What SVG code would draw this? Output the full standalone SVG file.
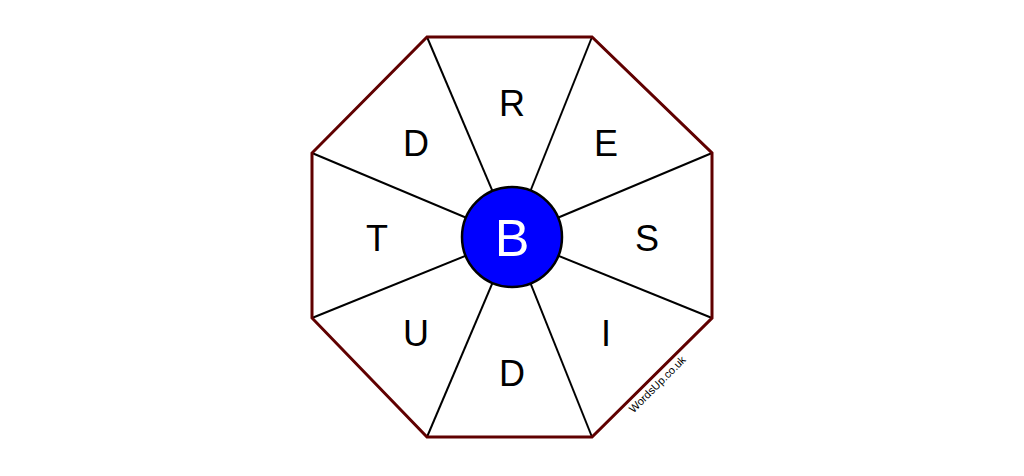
<svg xmlns="http://www.w3.org/2000/svg" width="1024" height="476" viewBox="0 0 1024 476">
<style>
.spoke{stroke:#000;stroke-width:2;}
.lt{font-family:"Liberation Sans",Arial,sans-serif;font-size:36px;fill:#000;text-anchor:middle;}
</style>
<rect width="1024" height="476" fill="#fff"/>
<g id="connectors">
<line class="spoke" x1="512" y1="237" x2="427" y2="37"/>
<line class="spoke" x1="512" y1="237" x2="592" y2="37"/>
<line class="spoke" x1="512" y1="237" x2="712" y2="153"/>
<line class="spoke" x1="512" y1="237" x2="712" y2="318"/>
<line class="spoke" x1="512" y1="237" x2="592" y2="437"/>
<line class="spoke" x1="512" y1="237" x2="427" y2="437"/>
<line class="spoke" x1="512" y1="237" x2="312" y2="318"/>
<line class="spoke" x1="512" y1="237" x2="312" y2="153"/>
</g>
<g id="octagon">
<polygon points="427,37 592,37 712,153 712,318 592,437 427,437 312,318 312,153" fill="none" stroke="#600000" stroke-width="3" stroke-linejoin="miter"/>
</g>
<g id="center">
<circle cx="512" cy="237" r="50" fill="#0000ff" stroke="#000" stroke-width="2.5"/>
<text x="512" y="256" font-family="'Liberation Sans',Arial,sans-serif" font-size="52" fill="#fff" text-anchor="middle">B</text>
</g>
<g id="letter-R"><text class="lt" x="512" y="116">R</text></g>
<g id="letter-E"><text class="lt" x="606" y="156">E</text></g>
<g id="letter-S"><text class="lt" x="647" y="251">S</text></g>
<g id="letter-I"><text class="lt" x="606" y="346">I</text></g>
<g id="letter-D2"><text class="lt" x="512" y="386">D</text></g>
<g id="letter-U"><text class="lt" x="416" y="346">U</text></g>
<g id="letter-T"><text class="lt" x="377" y="251">T</text></g>
<g id="letter-D1"><text class="lt" x="416" y="156">D</text></g>
<g id="watermark">
<text x="0" y="0" transform="translate(660,387) rotate(-45)" font-family="'Liberation Sans',Arial,sans-serif" font-size="11" fill="#000" text-anchor="middle">WordsUp.co.uk</text>
</g>
</svg>
